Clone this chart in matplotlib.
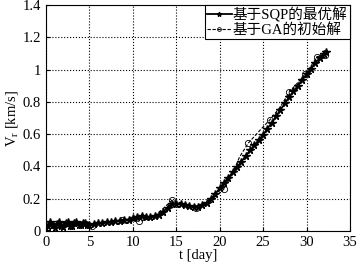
import numpy as np
import matplotlib
matplotlib.use('Agg')
import matplotlib.pyplot as plt
from matplotlib.ticker import FormatStrFormatter

plt.rcParams['font.family'] = ['Liberation Serif', 'Noto Sans CJK SC']
plt.rcParams['mathtext.fontset'] = 'custom'
plt.rcParams['mathtext.rm'] = 'Liberation Serif'
plt.rcParams['mathtext.it'] = 'Liberation Serif'

# SQP optimal solution
t_sqp = [0, 0.25, 0.5, 0.75, 1.0, 1.25, 1.5, 1.75, 2.0, 2.25, 2.5, 2.75, 3.0, 3.25,
         3.5, 3.75, 4.0, 4.25, 4.5, 4.75, 5.0, 5.5, 6, 6.5, 7, 7.5, 8, 8.5, 9, 9.5,
         10, 10.5, 11, 11.5, 12, 12.5, 13, 13.5, 14, 14.5, 15, 15.5, 16, 16.5, 17,
         17.5, 18, 18.5, 19, 19.5, 20, 20.5, 21, 21.5, 22, 22.5, 23, 23.5, 24, 24.5,
         25, 25.5, 26, 26.5, 27, 27.5, 28, 28.5, 29, 29.5, 30, 30.5, 31, 31.5, 32, 32.3]
v_sqp = [0.0, 0.03, 0.055, 0.035, 0.02, 0.045, 0.055, 0.03, 0.025, 0.05, 0.055, 0.03,
         0.03, 0.05, 0.055, 0.035, 0.035, 0.05, 0.05, 0.04, 0.04, 0.045, 0.05, 0.05,
         0.055, 0.055, 0.06, 0.065, 0.07, 0.07, 0.08, 0.085, 0.09, 0.085, 0.085, 0.09,
         0.10, 0.12, 0.145, 0.165, 0.17, 0.165, 0.16, 0.155, 0.15, 0.15, 0.16, 0.175,
         0.20, 0.23, 0.265, 0.30, 0.33, 0.365, 0.395, 0.43, 0.465, 0.50, 0.53, 0.565,
         0.595, 0.635, 0.67, 0.71, 0.75, 0.79, 0.83, 0.865, 0.90, 0.935, 0.97, 1.005,
         1.04, 1.07, 1.095, 1.11]

# GA initial solution
t_ga = [0, 0.5, 1, 1.5, 2, 2.5, 3, 3.5, 4, 4.5, 5.3, 6, 7, 8, 8.7, 9.5, 10.7, 11.5,
        12.5, 13.5, 14.5, 15.5, 16.5, 17.3, 18, 19, 20.5, 21.5, 22.3, 23.3, 25,
        25.8, 27, 28, 29, 29.8, 30.5, 31.2, 32.1]
v_ga = [0.0, 0.04, 0.03, 0.05, 0.03, 0.05, 0.035, 0.05, 0.04, 0.045, 0.03, 0.045,
        0.05, 0.06, 0.07, 0.07, 0.06, 0.07, 0.09, 0.14, 0.19, 0.175, 0.155, 0.14,
        0.15, 0.19, 0.26, 0.36, 0.46, 0.545, 0.645, 0.69, 0.77, 0.86, 0.92, 0.97,
        1.02, 1.08, 1.09]
ga_marks = [1, 10, 14, 16, 20, 23, 26, 29, 31, 33, 35, 37, 38]

fig = plt.figure(figsize=(3.58, 2.64), dpi=100)
ax = fig.add_axes([0.1285, 0.125, 0.849, 0.856])

ax.plot(t_sqp, v_sqp, 'k-', marker='*', markersize=5.5, linewidth=1.3,
        label='基于SQP的最优解')
ax.plot(t_ga, v_ga, 'k--', marker='o', markersize=4.5, markerfacecolor='none',
        markevery=ga_marks, linewidth=0.8, markeredgewidth=0.6, dashes=(3, 1.5),
        label='基于GA的初始解')

ax.set_xlim(0, 35)
ax.set_ylim(0, 1.4)
ax.set_xticks(np.arange(0, 36, 5))
ax.set_yticks(np.arange(0, 1.41, 0.2))
ax.yaxis.set_major_formatter(FormatStrFormatter('%g'))
ax.grid(True, linestyle=':', color='k', linewidth=0.8)
ax.tick_params(direction='in', labelsize=10.5, length=3)
for s in ax.spines.values():
    s.set_linewidth(0.8)

ax.set_xlabel('t [day]', fontsize=10.5, labelpad=0)
ax.set_ylabel('V$_r$ [km/s]', fontsize=10.5, labelpad=2)

leg = ax.legend(loc='upper right', fontsize=10.5, fancybox=False, framealpha=1,
                edgecolor='k', borderaxespad=0, handlelength=1.7,
                borderpad=0.15, labelspacing=0.05, handletextpad=0.1,
                markerscale=0.6)
leg.get_frame().set_linewidth(0.8)

fig.savefig('out.png', dpi=100)
